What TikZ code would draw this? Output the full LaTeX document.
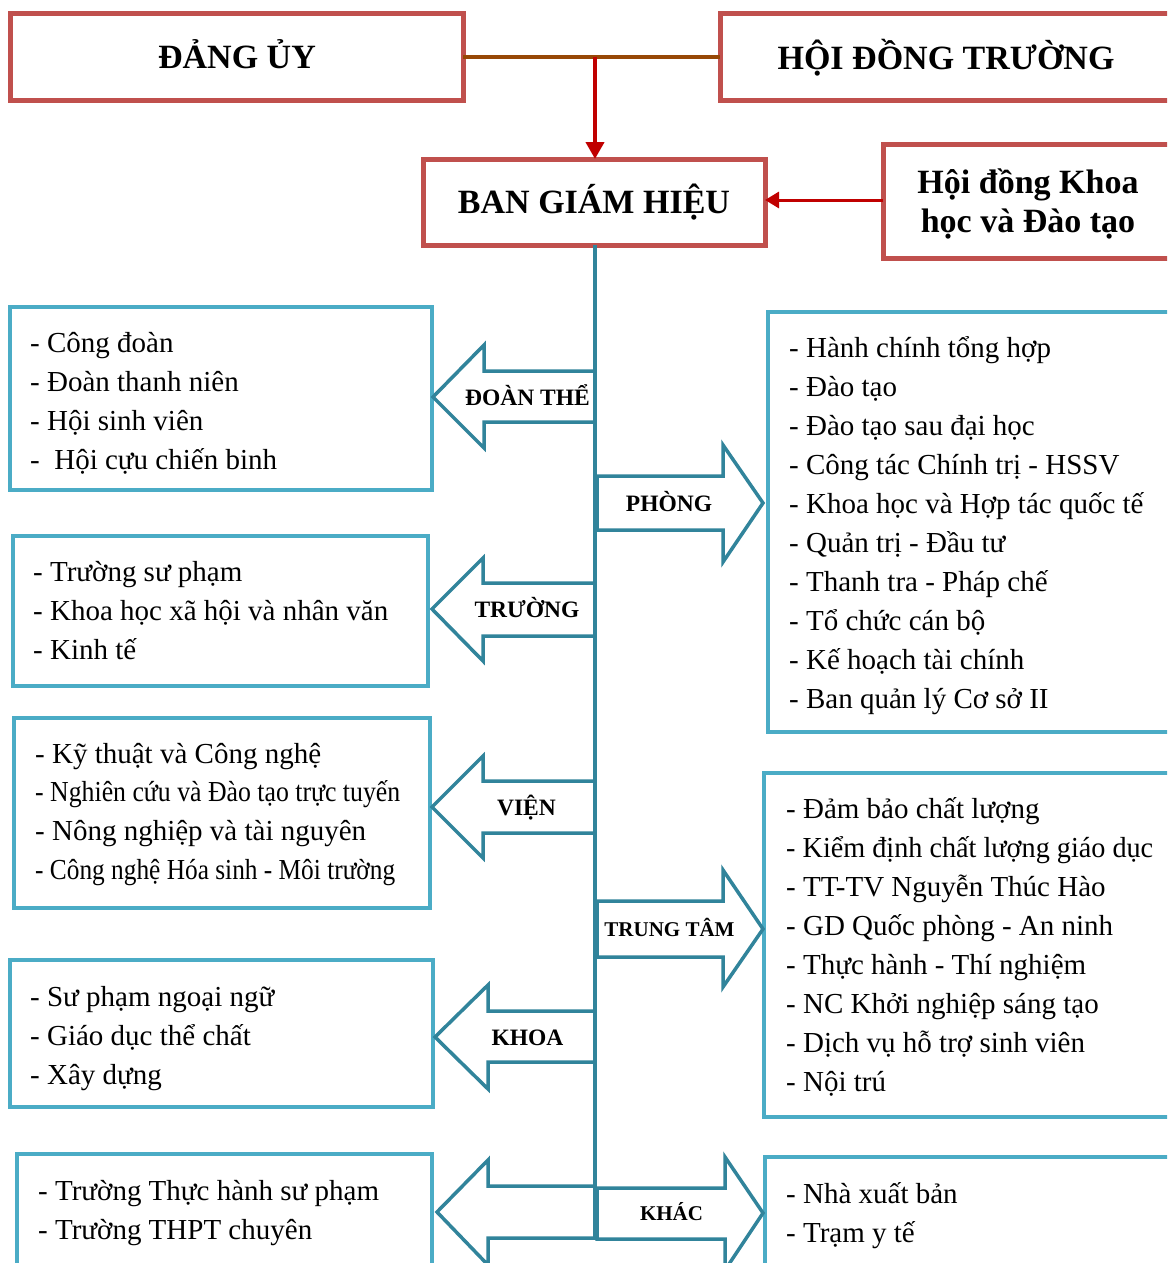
\documentclass[tikz,border=0pt]{standalone}
\usepackage{fontspec}
\setmainfont{Liberation Serif}
\definecolor{boxred}{HTML}{C0504D}
\definecolor{linebrown}{HTML}{974806}
\definecolor{arrred}{HTML}{C00000}
\definecolor{tealbox}{HTML}{4BACC6}
\definecolor{tealdark}{HTML}{31849B}
\usetikzlibrary{arrows.meta}
\tikzset{
  redbox/.style={draw=boxred, line width=5pt, rectangle, inner sep=0pt, outer sep=0pt, anchor=north west},
  tealframe/.style={draw=tealbox, line width=4pt, rectangle, inner sep=0pt, outer sep=0pt, anchor=north west},
  blockarrow/.style={draw=tealdark, line width=3.5pt, fill=white, line join=miter},
  title/.style={font=\fontsize{34}{40}\selectfont\bfseries, anchor=base, inner sep=0pt},
  arrlabel/.style={font=\fontsize{23.5}{28}\selectfont\bfseries, anchor=base, inner sep=0pt},
  arrlabelsm/.style={font=\fontsize{21}{26}\selectfont\bfseries, anchor=base, inner sep=0pt},
  item/.style={font=\fontsize{29}{34}\selectfont, anchor=base west, inner sep=0pt},
}
\begin{document}
\begin{tikzpicture}[x=1pt,y=-1pt]
\useasboundingbox (0,0) rectangle (1167,1263);
\clip (0,0) rectangle (1167,1263);
\fill[white] (0,0) rectangle (1167,1263);

% top boxes
\node[redbox, minimum width=453pt, minimum height=86pt] (dang) at (10,14) {};
\node[redbox, minimum width=480pt, minimum height=86pt] (hoi) at (720,14) {};
\node[redbox, minimum width=342pt, minimum height=86pt] (bgh) at (423,159) {};
\node[redbox, minimum width=320pt, minimum height=114pt] (hdk) at (883,144) {};

\node[title] (tdang) at (237,69) {ĐẢNG ỦY};
\node[title] (thoi) at (946,70) {HỘI ĐỒNG TRƯỜNG};
\node[title] (tbgh) at (594,213) {BAN GIÁM HIỆU};
\node[title] (thdk1) at (1028,193) {Hội đồng Khoa};
\node[title] (thdk2) at (1028,232) {học và Đào tạo};

% connectors at top
\draw[linebrown, line width=4.5pt] (dang.east) -- (hoi.west);
\coordinate (mid) at (595,57);
\draw[arrred, line width=4pt, -{Triangle[length=17pt,width=18pt]}] (mid) -- (bgh.north -| mid);
\draw[arrred, line width=3pt, -{Triangle[length=14pt,width=16pt]}] (hdk.west |- 0,200) -- (bgh.east |- 0,200);

% left boxes
\node[tealframe, minimum width=422pt, minimum height=183pt] (b1) at (10,307) {};
\node[tealframe, minimum width=415pt, minimum height=150pt] (b2) at (13,536) {};
\node[tealframe, minimum width=416pt, minimum height=190pt] (b3) at (14,718) {};
\node[tealframe, minimum width=423pt, minimum height=147pt] (b4) at (10,960) {};
\node[tealframe, minimum width=415pt, minimum height=146pt] (b5) at (17,1154) {};
% right boxes
\node[tealframe, minimum width=432pt, minimum height=420pt] (r1) at (768,312) {};
\node[tealframe, minimum width=436pt, minimum height=344pt] (r2) at (764,773) {};
\node[tealframe, minimum width=435pt, minimum height=143pt] (r3) at (765,1157) {};

% block arrows (left)
\draw[blockarrow] (595,371) -- (484,371) -- (484,345) -- (433,397) -- (484,448) -- (484,422) -- (595,422) -- cycle;
\draw[blockarrow] (595,583) -- (483,583) -- (483,558) -- (432,609) -- (483,661) -- (483,636) -- (595,636) -- cycle;
\draw[blockarrow] (595,781) -- (483,781) -- (483,756) -- (432,807) -- (483,858) -- (483,833) -- (595,833) -- cycle;
\draw[blockarrow] (595,1011) -- (488,1011) -- (488,985) -- (435,1037) -- (488,1089) -- (488,1062) -- (595,1062) -- cycle;
\draw[blockarrow] (595,1186) -- (488,1186) -- (488,1160) -- (437,1212) -- (488,1265) -- (488,1238) -- (595,1238) -- cycle;
% block arrows (right)
\draw[blockarrow] (597,476) -- (723,476) -- (723,445) -- (763,503) -- (723,562) -- (723,530) -- (597,530) -- cycle;
\draw[blockarrow] (597,901) -- (723,901) -- (723,870) -- (763,929) -- (723,987) -- (723,957) -- (597,957) -- cycle;
\draw[blockarrow] (597,1188) -- (725,1188) -- (725,1157) -- (763,1213) -- (725,1270) -- (725,1239) -- (597,1239) -- cycle;

% trunk
\coordinate (trunkend) at (595,1240);
\draw[tealdark, line width=4pt] (bgh.south -| trunkend) -- (trunkend);

% arrow labels
\node[arrlabel] (ldoan) at (527.5,405) {ĐOÀN THỂ};
\node[arrlabel] (lphong) at (669,511) {PHÒNG};
\node[arrlabel] (ltruong) at (527,617) {TRƯỜNG};
\node[arrlabel] (lvien) at (526.5,815) {VIỆN};
\node[arrlabelsm] (ltt) at (669.5,936) {TRUNG TÂM};
\node[arrlabel] (lkhoa) at (527.5,1045) {KHOA};
\node[arrlabelsm] (lkhac) at (671.5,1220) {KHÁC};

% left box texts
\foreach \t [count=\i] in {- Công đoàn, - Đoàn thanh niên, - Hội sinh viên, -\ \ Hội cựu chiến binh}
  \node[item] (b1t\i) at (30,352+39*\i-39) {\t};
\foreach \t [count=\i] in {- Trường sư phạm, - Khoa học xã hội và nhân văn, - Kinh tế}
  \node[item] (b2t\i) at (33,581+39*\i-39) {\t};
\node[item] (b3t1) at (35,763) {- Kỹ thuật và Công nghệ};
\node[item] (b3t2) at (35,801) {\resizebox{365pt}{\height}{- Nghiên cứu và Đào tạo trực tuyến}};
\node[item] (b3t3) at (35,840) {- Nông nghiệp và tài nguyên};
\node[item] (b3t4) at (35,879) {\resizebox{360pt}{\height}{- Công nghệ Hóa sinh - Môi trường}};
\foreach \t [count=\i] in {- Sư phạm ngoại ngữ, - Giáo dục thể chất, - Xây dựng}
  \node[item] (b4t\i) at (30,1006+39*\i-39) {\t};
\foreach \t [count=\i] in {- Trường Thực hành sư phạm, - Trường THPT chuyên}
  \node[item] (b5t\i) at (38,1200+39*\i-39) {\t};

% right box texts
\foreach \t [count=\i] in {- Hành chính tổng hợp, - Đào tạo, - Đào tạo sau đại học, - Công tác Chính trị - HSSV, - Khoa học và Hợp tác quốc tế, - Quản trị - Đầu tư, - Thanh tra - Pháp chế, - Tổ chức cán bộ, - Kế hoạch tài chính, - Ban quản lý Cơ sở II}
  \node[item] (r1t\i) at (789,357+39*\i-39) {\t};
\foreach \t [count=\i] in {- Đảm bảo chất lượng, {\resizebox{367pt}{\height}{- Kiểm định chất lượng giáo dục}}, - TT-TV Nguyễn Thúc Hào, - GD Quốc phòng - An ninh, - Thực hành - Thí nghiệm, - NC Khởi nghiệp sáng tạo, - Dịch vụ hỗ trợ sinh viên, - Nội trú}
  \node[item] (r2t\i) at (786,818+39*\i-39) {\t};
\foreach \t [count=\i] in {- Nhà xuất bản, - Trạm y tế}
  \node[item] (r3t\i) at (786,1203+39*\i-39) {\t};
\end{tikzpicture}
\end{document}
